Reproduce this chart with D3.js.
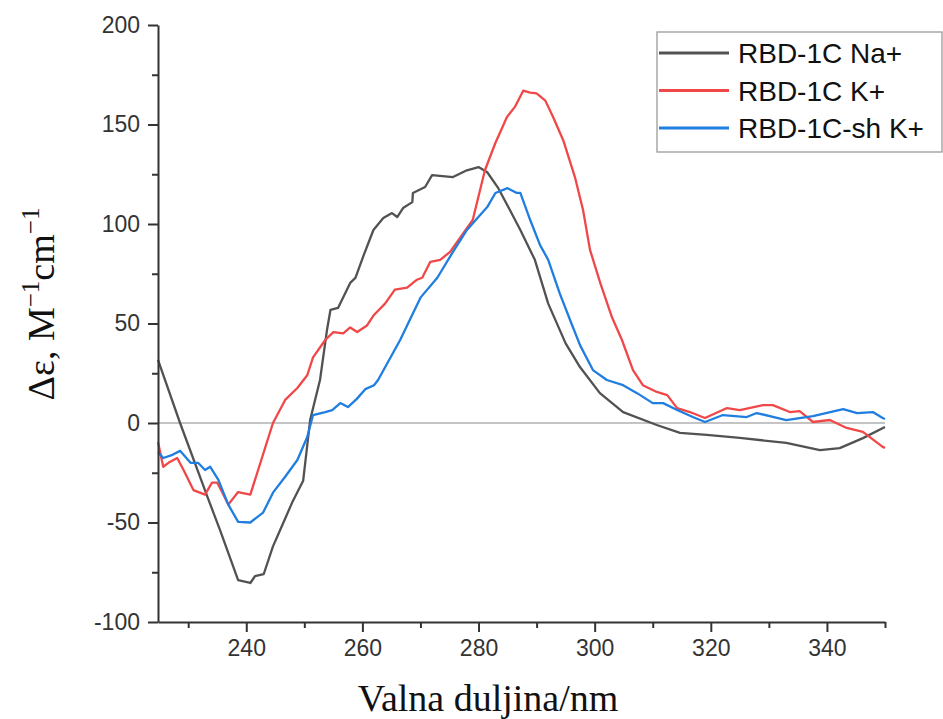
<!DOCTYPE html>
<html lang="en">

<head>
    <meta charset="utf-8">
    <script src="https://d3js.org/d3.v7.min.js"></script>
    <style>
        body { margin: 0; background: #fff; }
    </style>
</head>

<body>
    <div id="chart"></div>

    <script>
        // series data (wavelength in nm, delta epsilon)
        const naWave = [224.8, 228.6, 233.3, 235.5, 238.6, 240.7, 241.5, 243, 244.6, 245.8, 247.9, 249.8, 251, 252.7, 253.9, 254.5, 255.8, 257.9, 258.8, 260.1, 261.9, 263.6, 265.1, 266, 267, 268.6, 268.7, 270.8, 272, 275.6, 278, 280, 281.5, 283.4, 285.4, 287.2, 289.7, 292, 295, 297.5, 300.9, 304.9, 310.7, 314.7, 319.3, 325, 333, 338.8, 342.2, 346.2, 350];
        const naValues = [31.7, 0, -37, -54, -79, -80.4, -77, -76, -62, -54, -40, -29, 1.5, 21.6, 46.7, 56.8, 57.8, 70.4, 72.9, 83.4, 97, 103, 105.5, 103.5, 108, 111, 115.6, 118.6, 124.6, 123.6, 127, 128.6, 126, 118, 107, 97, 82, 60, 40, 28, 15, 5.5, -1, -5, -6, -7.5, -10, -13.6, -12.6, -7.6, -2];

        const kWave = [224.8, 225.7, 226.6, 228.1, 229.2, 230.9, 232.9, 234.1, 235, 235.9, 236.9, 238.6, 240.7, 241.5, 244.6, 246.7, 248.8, 250.5, 251.5, 253.6, 255, 256.7, 257.9, 259.1, 260.8, 261.9, 263.9, 265.6, 267.7, 269.4, 270.3, 271.7, 273.4, 275.1, 279, 281.1, 282.9, 284.9, 286.3, 287.7, 288.9, 290, 291.5, 292.8, 294.6, 296.6, 298, 299.2, 301, 303, 304.7, 306.6, 308.3, 310.7, 312.5, 314.2, 316.4, 319, 322.8, 325, 329, 330.7, 333.6, 335.3, 337.6, 340.5, 343.4, 346.2, 349.6, 350];
        const kValues = [-9.5, -22, -20, -17.6, -23.6, -33.7, -36, -30, -30, -35, -41, -34.7, -36, -28.6, 0, 11.6, 17.6, 24, 33, 41.7, 45.7, 45, 48, 45.7, 49, 54, 60, 67, 68, 72, 73, 81, 82, 86, 102, 127, 140.7, 153.8, 159, 167, 166, 165.6, 162, 154, 142, 123.6, 107, 87, 70, 53, 41.7, 26.6, 19, 15.6, 14, 7.5, 5.5, 2.5, 7.5, 6.5, 9, 9, 5.5, 6, 0.5, 1.5, -2.5, -4.5, -12, -12.5];

        const shWave = [224.8, 225.7, 227.3, 228.6, 230.4, 231.7, 232.9, 233.8, 235.2, 236.9, 238.6, 240.7, 242.9, 244.6, 246.7, 248.8, 250.5, 251.5, 253.6, 254.8, 256.2, 257.5, 259, 260.5, 262, 262.7, 266.5, 270, 272.9, 275.6, 278, 281.5, 282.9, 285, 286.6, 287.2, 288.9, 290.6, 292, 294, 296, 297.5, 299.7, 302.1, 304.9, 307.3, 310, 311.8, 314.2, 316.9, 319, 322.1, 326.2, 327.9, 333, 337.6, 342.8, 345.2, 347.9, 349.6, 350];
        const shValues = [-14.6, -17.6, -16, -14, -20, -20, -23.6, -22, -28.6, -41, -49.7, -50, -45, -35, -27, -18.6, -7, 4, 5.5, 6.5, 10, 8, 12, 17, 19, 21.6, 41.7, 63, 73, 86, 97, 108.5, 115.6, 118, 115.6, 115.6, 102, 89.4, 82, 65, 50, 39, 26.6, 21.6, 19, 15, 10, 10, 6.5, 3, 0.5, 4, 3, 5, 1.5, 3.5, 7, 5, 5.5, 2.5, 2];

        const seriesNames = ["RBD-1C Na+", "RBD-1C K+", "RBD-1C-sh K+"];
        const seriesColors = ["#525252", "#f04848", "#1f7ee0"];

        const xTicks = [240, 260, 280, 300, 320, 340];
        const xMinorTicks = [230, 250, 270, 290, 310, 330, 350];
        const yTicks = [-100, -50, 0, 50, 100, 150, 200];
        const yMinorTicks = [-75, -25, 25, 75, 125, 175];

        const width = 943;
        const height = 719;

        const svg = d3.select("#chart").append("svg")
            .attr("width", width)
            .attr("height", height)
            .style("font-family", "'Liberation Sans', Arial, sans-serif");

        // scales
        const x = d3.scaleLinear().domain([224.8, 350]).range([158, 885]);
        const y = d3.scaleLinear().domain([-100, 200]).range([622, 25]);

        // zero line
        svg.append("line")
            .attr("x1", x(224.8)).attr("x2", x(350))
            .attr("y1", y(0)).attr("y2", y(0))
            .attr("stroke", "#b0b0b0")
            .attr("stroke-width", 1.3);

        // curves
        const line = d3.line()
            .x(d => x(d[0]))
            .y(d => y(d[1]));

        const allSeries = [
            d3.zip(naWave, naValues),
            d3.zip(kWave, kValues),
            d3.zip(shWave, shValues)
        ];

        // grey, red, blue in the legend order
        allSeries.forEach((s, i) => {
            svg.append("path")
                .datum(s)
                .attr("fill", "none")
                .attr("stroke", seriesColors[i])
                .attr("stroke-width", 2.3)
                .attr("stroke-linejoin", "round")
                .attr("d", line);
        });

        // x axis
        const xAxis = svg.append("g")
            .attr("transform", "translate(0," + y(-100) + ")")
            .call(d3.axisBottom(x).tickValues(xTicks).tickSize(10).tickPadding(8).tickSizeOuter(0));
        xAxis.selectAll("text").style("font-size", "23px").attr("fill", "#333");

        svg.append("g")
            .attr("transform", "translate(0," + y(-100) + ")")
            .call(d3.axisBottom(x).tickValues(xMinorTicks).tickSize(6).tickFormat("").tickSizeOuter(0))
            .select(".domain").remove();

        // y axis (plain hyphen for negatives, like the original)
        const yAxis = svg.append("g")
            .attr("transform", "translate(" + x(224.8) + ",0)")
            .call(d3.axisLeft(y).tickValues(yTicks).tickSize(10).tickPadding(8).tickSizeOuter(0)
                .tickFormat(d => String(d)));
        yAxis.selectAll("text").style("font-size", "23px").attr("fill", "#333");

        svg.append("g")
            .attr("transform", "translate(" + x(224.8) + ",0)")
            .call(d3.axisLeft(y).tickValues(yMinorTicks).tickSize(6).tickFormat("").tickSizeOuter(0))
            .select(".domain").remove();

        svg.selectAll(".domain, .tick line")
            .attr("stroke", "#333")
            .attr("stroke-width", 2);

        // axis titles
        svg.append("text")
            .attr("x", 488)
            .attr("y", 711)
            .attr("text-anchor", "middle")
            .style("font-family", "'Liberation Serif', 'Times New Roman', serif")
            .style("font-size", "38px")
            .attr("fill", "#111")
            .text("Valna duljina/nm");

        const yTitle = svg.append("text")
            .attr("transform", "translate(54,304) rotate(-90)")
            .attr("text-anchor", "middle")
            .style("font-family", "'Liberation Serif', 'Times New Roman', serif")
            .style("font-size", "38px")
            .attr("fill", "#111");
        yTitle.append("tspan").text("\u0394\u03b5, M");
        yTitle.append("tspan").attr("dy", -15).style("font-size", "25px").text("\u22121");
        yTitle.append("tspan").attr("dy", 15).text("cm");
        yTitle.append("tspan").attr("dy", -15).style("font-size", "25px").text("\u22121");

        // legend
        const legend = svg.append("g").attr("transform", "translate(657,32)");
        legend.append("rect")
            .attr("width", 285)
            .attr("height", 120)
            .attr("fill", "#fff")
            .attr("stroke", "#9a9a9a")
            .attr("stroke-width", 1.3);

        seriesNames.forEach((name, i) => {
            const ly = 21 + i * 37.5;
            legend.append("line")
                .attr("x1", 2).attr("x2", 72)
                .attr("y1", ly).attr("y2", ly)
                .attr("stroke", seriesColors[i])
                .attr("stroke-width", 3);
            legend.append("text")
                .attr("x", 81)
                .attr("y", ly + 10)
                .style("font-size", "28px")
                .attr("fill", "#111")
                .text(name);
        });
    </script>
</body>

</html>
